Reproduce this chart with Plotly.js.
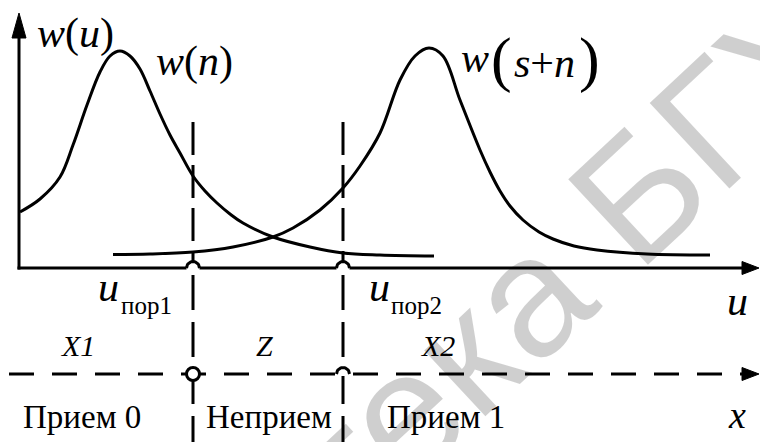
<!DOCTYPE html>
<html>
<head>
<meta charset="utf-8">
<script src="https://cdn.plot.ly/plotly-3.0.1.min.js"></script>
<style>
  html, body { margin: 0; padding: 0; background: #fff; }
  #chart { width: 760px; height: 442px; }
</style>
</head>
<body>
<div id="chart"></div>
<script>
// Noise-only density w(n), sampled along u
const noiseU = [0.1, 2.1, 4.1, 5.4, 6.8, 8.1, 9.1, 10.1, 11.1, 12.1, 13.1, 14.1, 15.1, 16.1, 17.4, 18.6, 19.8, 21.1, 22.4, 25.4, 29.1, 32.4, 36.1, 41.5];
const noiseW = [5.6, 6.9, 9.1, 12.3, 16.3, 19.6, 21.2, 21.7, 21.2, 19.9, 17.7, 15.4, 13.3, 11.5, 9.2, 7.7, 6.5, 5.4, 4.5, 3.1, 2.1, 1.5, 1.3, 1.2];

// Signal-plus-noise density w(s+n)
const signalU = [9.4, 13.1, 17.4, 21.4, 25.4, 27.4, 30.1, 32.4, 34.1, 36.1, 38.1, 39.6, 41.0, 42.4, 44.1, 46.1, 47.1, 48.1, 49.1, 50.4, 52.0, 53.4, 55.5, 57.8, 62.8, 69.1];
const signalW = [1.35, 1.4, 1.6, 2.1, 3.1, 4.0, 5.8, 8.0, 10.2, 13.5, 18.8, 21.2, 22.0, 21.2, 16.8, 11.8, 9.6, 7.7, 6.2, 4.8, 3.6, 2.9, 2.2, 1.8, 1.4, 1.3];

// Decision thresholds u_пор1, u_пор2
const thresholds = [17.4, 32.4];
const thresholdSubs = ['пор1', 'пор2'];

// Decision regions on the x line
const regionNames = ['X1', 'Z', 'X2'];
const regionDecisions = ['Прием 0', 'Неприем', 'Прием 1'];

// ---- geometry of the drawing (axis units: 10 px each) ----
const U_END = 72.3, U_TIP = 74.0;      // arrow base / tip of the u and x axes
const W_END = 23.0, W_TIP = 25.5;      // arrow base / tip of the w axis
const X_LINE = -10.6;                  // level of the dashed decision line x
const DASH_TOP = 14.6, DASH_BOTTOM = -17.4;
const JUMP_R = 0.65;                   // radius of the line jumpers
const INK = '#000';
const LW = 3;

const shapes = [];
const line = (x0, y0, x1, y1, dash) => shapes.push({
  type: 'line', x0, y0, x1, y1, xref: 'x', yref: 'y', layer: 'below',
  line: { color: INK, width: LW, dash: dash || 'solid' }
});
const arrowHead = (path) => shapes.push({
  type: 'path', path, xref: 'x', yref: 'y', layer: 'below',
  fillcolor: INK, line: { color: INK, width: 1 }
});

// w axis and u axis
line(0, -0.15, 0, W_END);
arrowHead(`M -0.7,${W_END} L 0.7,${W_END} L 0,${W_TIP} Z`);
line(-0.15, 0, U_END, 0);
arrowHead(`M ${U_END},0.65 L ${U_END},-0.65 L ${U_TIP},0 Z`);

// dashed decision axis x
line(-1.0, X_LINE, U_END, X_LINE, '25px,18px');
arrowHead(`M ${U_END},${X_LINE + 0.65} L ${U_END},${X_LINE - 0.65} L ${U_TIP},${X_LINE} Z`);

// dashed threshold lines
thresholds.forEach(t => {
  line(t, DASH_TOP, t, JUMP_R, '33px,10px');
  line(t, -0.7, t, DASH_BOTTOM, '35px,12px');
});

// jumper (small hump) over a crossing line
function jumper(u, w) {
  const xs = [], ys = [];
  for (let i = 0; i <= 24; i++) {
    const a = Math.PI * (1 - i / 24);
    xs.push(u + JUMP_R * Math.cos(a));
    ys.push(w + JUMP_R * Math.sin(a));
  }
  return [
    { x: xs.concat([u + JUMP_R, u - JUMP_R]), y: ys.concat([w - 0.2, w - 0.2]),
      mode: 'lines', fill: 'toself', fillcolor: '#fff', line: { width: 0 },
      hoverinfo: 'skip' },
    { x: xs, y: ys, mode: 'lines', line: { color: INK, width: LW }, hoverinfo: 'skip' }
  ];
}

const traces = [
  { x: noiseU, y: noiseW, mode: 'lines', line: { color: INK, width: LW, shape: 'spline', smoothing: 1 } },
  { x: signalU, y: signalW, mode: 'lines', line: { color: INK, width: LW, shape: 'spline', smoothing: 1 } },
  ...jumper(thresholds[0], 0),
  ...jumper(thresholds[1], 0),
  ...jumper(thresholds[1], X_LINE),
  { x: [thresholds[0]], y: [X_LINE], mode: 'markers',
    marker: { symbol: 'circle', size: 13, color: '#fff', line: { color: INK, width: LW } } }
];

const SERIF = '"Liberation Serif", "Times New Roman", "DejaVu Serif", serif';
const label = (text, x, y, size) => ({
  text, x, y, xref: 'x', yref: 'y', showarrow: false,
  xanchor: 'left', yanchor: 'middle',
  font: { family: SERIF, size, color: INK }
});

const annotations = [
  // watermark
  { text: 'Библиотека БГУИР', x: 42.3, y: -10.8, xref: 'x', yref: 'y', showarrow: false,
    xanchor: 'center', yanchor: 'middle', textangle: -43,
    font: { family: '"Liberation Sans", Arial, sans-serif', size: 170, color: 'rgba(0,0,0,0.19)' } },

  label('<i>w</i>(<i>u</i>)', 1.6, 23.5, 42),
  label('<i>w</i>(<i>n</i>)', 13.5, 20.7, 42),
  label('<i>w</i>', 44.0, 21.0, 42),
  label('(', 47.0, 20.9, 62),
  label('<i>s</i>+<i>n</i>', 49.3, 20.5, 42),
  label(')', 55.8, 20.9, 62),

  label('<i>u</i>', thresholds[0] - 9.7, -1.87, 42),
  label(thresholdSubs[0], thresholds[0] - 7.4, -3.75, 25),
  label('<i>u</i>', thresholds[1] + 2.4, -1.87, 42),
  label(thresholdSubs[1], thresholds[1] + 4.6, -3.75, 25),
  label('<i>u</i>', 70.6, -3.3, 42),

  label('<i>' + regionNames[0] + '</i>', 4.0, -7.75, 30),
  label('<i>' + regionNames[1] + '</i>', 23.5, -7.75, 30),
  label('<i>' + regionNames[2] + '</i>', 40.0, -7.75, 30),

  label(regionDecisions[0], 0.2, -14.85, 33),
  label(regionDecisions[1], 18.5, -14.85, 33),
  label(regionDecisions[2], 36.6, -14.85, 33),
  label('<i>x</i>', 70.7, -14.7, 38)
];

const layout = {
  width: 760, height: 442,
  margin: { l: 0, r: 0, t: 0, b: 0 },
  paper_bgcolor: '#fff', plot_bgcolor: '#fff',
  font: { family: SERIF, color: INK },
  showlegend: false,
  xaxis: { range: [-1.9, 74.1], visible: false, fixedrange: true },
  yaxis: { range: [-17.4, 26.8], visible: false, fixedrange: true },
  shapes, annotations
};

Plotly.newPlot('chart', traces, layout, { staticPlot: true, displayModeBar: false });
</script>
</body>
</html>
